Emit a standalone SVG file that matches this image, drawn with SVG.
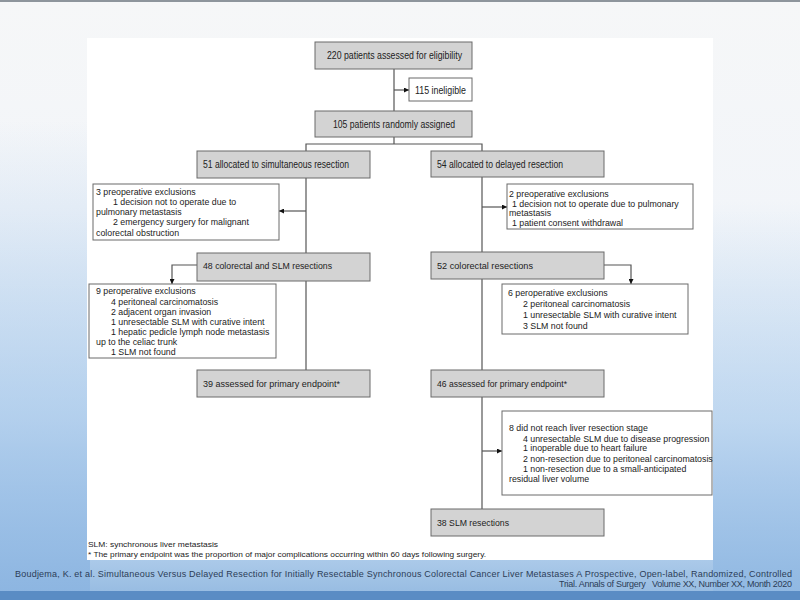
<svg xmlns="http://www.w3.org/2000/svg" width="800" height="600" viewBox="0 0 800 600">
<defs>
<linearGradient id="bg" x1="0" y1="0" x2="0" y2="1">
<stop offset="0" stop-color="#f6f7f8"/>
<stop offset="0.35" stop-color="#f2f5f9"/>
<stop offset="0.7" stop-color="#dbe9f6"/>
<stop offset="0.92" stop-color="#b0cdeb"/>
<stop offset="1" stop-color="#93b9e0"/>
</linearGradient>
<linearGradient id="lside" x1="0" y1="0" x2="0" y2="1">
<stop offset="0" stop-color="#a3c5e9" stop-opacity="0"/>
<stop offset="0.6" stop-color="#9cc1e8" stop-opacity="0.6"/>
<stop offset="1" stop-color="#8cb5e1" stop-opacity="0.9"/>
</linearGradient>
<linearGradient id="rside" x1="0" y1="0" x2="0" y2="1">
<stop offset="0" stop-color="#a9c9ea" stop-opacity="0"/>
<stop offset="0.6" stop-color="#a2c5ea" stop-opacity="0.55"/>
<stop offset="1" stop-color="#90b8e2" stop-opacity="0.9"/>
</linearGradient>
<marker id="ah" viewBox="0 0 6 6" refX="6" refY="3" markerWidth="5" markerHeight="5" orient="auto" markerUnits="userSpaceOnUse">
<path d="M0,0 L6,3 L0,6 Z" fill="#111"/>
</marker>
<style>
.g{fill:#d3d3d3;stroke:#6a6a6a;stroke-width:1}
.w{fill:#ffffff;stroke:#6a6a6a;stroke-width:1}
.t{font-family:"Liberation Sans",Arial,sans-serif;fill:#222}
.n{font-size:10px}
.r{font-size:9px}
.e{font-size:8.8px}
.c{fill:none;stroke:#555;stroke-width:1.2}
.f{font-size:8px}
.cit{font-family:"Liberation Sans",Arial,sans-serif;font-size:9px;fill:#2c3d57}
</style>
</defs>
<rect x="0" y="0" width="800" height="600" fill="url(#bg)"/>
<rect x="0" y="120" width="90" height="471" fill="url(#lside)"/>
<rect x="713" y="200" width="87" height="391" fill="url(#rside)"/>
<rect x="0" y="0" width="800" height="2" fill="#8e959c"/>
<rect x="0" y="591" width="800" height="9" fill="#5a8cc4"/>
<rect x="87" y="38" width="626" height="522" fill="#ffffff"/>

<g id="connectors">
<path class="c" d="M394,69 V111"/>
<path class="c" d="M394,90 H409" marker-end="url(#ah)"/>
<path class="c" d="M394,137 V144 M306,151 V144 H482 V151"/>
<path class="c" d="M306,178 V253"/>
<path class="c" d="M306,211 H279" marker-end="url(#ah)"/>
<path class="c" d="M482,177 V252"/>
<path class="c" d="M482,207 H507" marker-end="url(#ah)"/>
<path class="c" d="M197,265 H172 V284" marker-end="url(#ah)"/>
<path class="c" d="M604,265 H631 V284" marker-end="url(#ah)"/>
<path class="c" d="M306,281 V370"/>
<path class="c" d="M482,279 V370"/>
<path class="c" d="M482,397 V509"/>
<path class="c" d="M482,451 H502" marker-end="url(#ah)"/>
</g>

<g id="n220"><rect class="g" x="315" y="42" width="157" height="27"/><text class="t n" x="327" y="59" textLength="135" lengthAdjust="spacingAndGlyphs">220 patients assessed for eligibility</text></g>
<g id="n115"><rect class="w" x="409" y="78" width="63" height="23"/><text class="t n" x="415" y="93.5" textLength="51" lengthAdjust="spacingAndGlyphs">115 ineligible</text></g>
<g id="n105"><rect class="g" x="315" y="111" width="157" height="26"/><text class="t n" x="333" y="128" textLength="122" lengthAdjust="spacingAndGlyphs">105 patients randomly assigned</text></g>
<g id="n51"><rect class="g" x="197" y="151" width="173" height="27"/><text class="t n" x="203" y="167.5" textLength="146" lengthAdjust="spacingAndGlyphs">51 allocated to simultaneous resection</text></g>
<g id="n54"><rect class="g" x="431" y="151" width="173" height="26"/><text class="t n" x="437" y="167.5" textLength="126" lengthAdjust="spacingAndGlyphs">54 allocated to delayed resection</text></g>

<g id="pre3"><rect class="w" x="93" y="184" width="186" height="56"/>
<text class="t e" x="96" y="195">3 preoperative exclusions</text>
<text class="t e" x="113" y="205">1 decision not to operate due to</text>
<text class="t e" x="96" y="215">pulmonary metastasis</text>
<text class="t e" x="113" y="225">2 emergency surgery for malignant</text>
<text class="t e" x="96" y="236">colorectal obstruction</text>
</g>
<g id="pre2"><rect class="w" x="507" y="184" width="186" height="45"/>
<text class="t e" x="509" y="197">2 preoperative exclusions</text>
<text class="t e" x="512" y="206.5">1 decision not to operate due to pulmonary</text>
<text class="t e" x="509" y="216">metastasis</text>
<text class="t e" x="512" y="226">1 patient consent withdrawal</text>
</g>

<g id="n48"><rect class="g" x="197" y="253" width="173" height="28"/><text class="t r" x="203" y="269" textLength="129" lengthAdjust="spacingAndGlyphs">48 colorectal and SLM resections</text></g>
<g id="n52"><rect class="g" x="431" y="252" width="173" height="27"/><text class="t r" x="437" y="269" textLength="96" lengthAdjust="spacingAndGlyphs">52 colorectal resections</text></g>

<g id="per9"><rect class="w" x="89" y="284" width="187" height="74"/>
<text class="t e" x="96" y="293.5">9 peroperative exclusions</text>
<text class="t e" x="111" y="304.5">4 peritoneal carcinomatosis</text>
<text class="t e" x="111" y="314.5">2 adjacent organ invasion</text>
<text class="t e" x="111" y="324.5">1 unresectable SLM with curative intent</text>
<text class="t e" x="111" y="335">1 hepatic pedicle lymph node metastasis</text>
<text class="t e" x="96" y="345">up to the celiac trunk</text>
<text class="t e" x="111" y="355">1 SLM not found</text>
</g>
<g id="per6"><rect class="w" x="502" y="284" width="186" height="50"/>
<text class="t e" x="508" y="296">6 peroperative exclusions</text>
<text class="t e" x="523" y="306.5">2 peritoneal carcinomatosis</text>
<text class="t e" x="523" y="318">1 unresectable SLM with curative intent</text>
<text class="t e" x="523" y="328.5">3 SLM not found</text>
</g>

<g id="n39"><rect class="g" x="197" y="370" width="173" height="27"/><text class="t r" x="203" y="387" textLength="137" lengthAdjust="spacingAndGlyphs">39 assessed for primary endpoint*</text></g>
<g id="n46"><rect class="g" x="431" y="370" width="173" height="27"/><text class="t r" x="437" y="387" textLength="130" lengthAdjust="spacingAndGlyphs">46 assessed for primary endpoint*</text></g>

<g id="did8"><rect class="w" x="502" y="411" width="210" height="84"/>
<text class="t e" x="509" y="431">8 did not reach liver resection stage</text>
<text class="t e" x="523" y="441.5">4 unresectable SLM due to disease progression</text>
<text class="t e" x="523" y="451">1 inoperable due to heart failure</text>
<text class="t e" x="523" y="462">2 non-resection due to peritoneal carcinomatosis</text>
<text class="t e" x="523" y="472">1 non-resection due to a small-anticipated</text>
<text class="t e" x="509" y="482">residual liver volume</text>
</g>

<g id="n38"><rect class="g" x="431" y="509" width="173" height="27"/><text class="t r" x="437" y="526" textLength="72" lengthAdjust="spacingAndGlyphs">38 SLM resections</text></g>

<g id="notes">
<text class="t f" x="88" y="547" textLength="130" lengthAdjust="spacingAndGlyphs">SLM: synchronous liver metastasis</text>
<text class="t f" x="88" y="557" textLength="398" lengthAdjust="spacingAndGlyphs">* The primary endpoint was the proportion of major complications occurring within 60 days following surgery.</text>
</g>
<g id="citation">
<text class="cit" x="15" y="576.5" textLength="777" lengthAdjust="spacing">Boudjema, K. et al. Simultaneous Versus Delayed Resection for Initially Resectable Synchronous Colorectal Cancer Liver Metastases A Prospective, Open-label, Randomized, Controlled</text>
<text class="cit" x="559" y="586.5" textLength="233" lengthAdjust="spacing" xml:space="preserve">Trial. Annals of Surgery   Volume XX, Number XX, Month 2020</text>
</g>
</svg>
